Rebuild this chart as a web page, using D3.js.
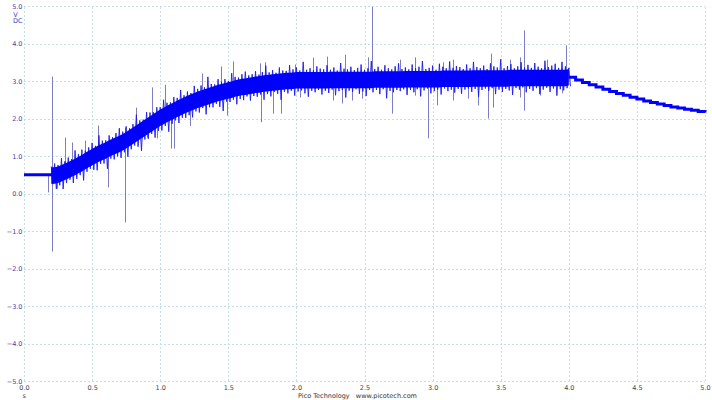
<!DOCTYPE html>
<html>
<head>
<meta charset="utf-8">
<script src="https://cdn.jsdelivr.net/npm/d3@7"></script>
<style>
  html, body { margin: 0; padding: 0; background: #ffffff; }
  svg { display: block; }
</style>
</head>
<body>
<svg id="chart" width="712" height="400"></svg>
<script>
// ---------------- data ----------------
const xTicks = [0.0, 0.5, 1.0, 1.5, 2.0, 2.5, 3.0, 3.5, 4.0, 4.5, 5.0];
const yTicks = [-5, -4, -3, -2, -1, 0, 1, 2, 3, 4, 5];
const yUnitLabels = ["V", "DC"];
const xUnitLabel = "s";
const footerText = "Pico Technology   www.picotech.com";

// flat pre-trigger level
const flatT = [0.0, 0.21];
const flatV = [0.50, 0.50];

// noisy section: sample grid (s)
const noiseStart = 0.2, noiseStep = 0.025;
// band centre (V) every 0.025 s from 0.200 to 4.000 s
const midV = [
0.48,0.48,0.50,0.54,0.58,0.62,0.67,0.71,0.76,0.81,
0.87,0.92,0.97,1.02,1.07,1.11,1.15,1.20,1.24,1.28,
1.32,1.37,1.42,1.48,1.54,1.60,1.66,1.72,1.78,1.84,
1.90,1.96,2.02,2.07,2.12,2.17,2.21,2.26,2.30,2.35,
2.39,2.43,2.46,2.50,2.53,2.56,2.59,2.62,2.65,2.68,
2.70,2.73,2.75,2.77,2.80,2.82,2.84,2.85,2.87,2.88,
2.90,2.91,2.93,2.94,2.95,2.96,2.97,2.98,2.99,3.00,
3.00,3.01,3.02,3.02,3.02,3.02,3.02,3.02,3.02,3.02,
3.02,3.02,3.03,3.03,3.03,3.03,3.03,3.03,3.03,3.03,
3.03,3.03,3.03,3.03,3.03,3.04,3.04,3.04,3.04,3.04,
3.04,3.04,3.04,3.04,3.05,3.05,3.05,3.05,3.05,3.05,
3.05,3.05,3.05,3.05,3.05,3.06,3.06,3.06,3.06,3.06,
3.06,3.06,3.06,3.06,3.07,3.07,3.07,3.07,3.07,3.07,
3.07,3.07,3.07,3.07,3.07,3.08,3.08,3.08,3.08,3.08,
3.08,3.08,3.08,3.08,3.08,3.08,3.08,3.08,3.08,3.08,
3.08,3.08,3.10
];
// half width of the dense core (V)
const coreHalf = 0.22;
// fringe excursions beyond the core (V)
const upExc = [
.02,.10,.04,.18,.06,.12,.03,.22,.07,.14,.05,.09,.16,.03,.26,.08,.05,.13,.04,.11,
.20,.06,.15,.04,.09,.28,.07,.03,.17,.10,.05,.12,.06,.21,.08,.04,.14,.07,.24,.05,
.11,.03,.19,.07,.13,.05,.30,.08,.04,.15,.06,.10,.03,.22,.09,.05,.12,.18,.06,.08,
.14,.04,.09,.25,.06,.11,.03,.16,.07,.05,.20,.08,.12,.04,.27,.06,.10,.05,.15,.09,
.07,.18,.05,.11,.03,.23,.08,.06,.13,.04,.10,.19,.05,.09,.28,.06,.12,.04,.16,.08,
.05,.13,.21,.06,.09,.04,.17,.07,.11,.26,.05,.08,.14,.03,.19,.10,.06,.24,.07,.12,
.09,.04,.16,.06,.22,.08,.05,.12,.03,.18,.10,.07,.29,.05,.11,.15,.04,.09,.20,.06,
.13,.05,.18,.08,.04,.24,.07,.11,.16,.05,.21,.09,.03
];
const downExc = [
.01,.14,.06,.20,.08,.03,.17,.10,.05,.24,.07,.04,.12,.18,.06,.09,.27,.05,.11,.07,
.15,.05,.22,.08,.04,.13,.30,.06,.10,.03,.19,.07,.12,.05,.25,.09,.04,.16,.06,.11,
.08,.18,.05,.12,.03,.23,.07,.10,.04,.15,.28,.06,.09,.05,.20,.08,.13,.04,.17,.06,
.10,.05,.21,.07,.14,.03,.09,.26,.06,.11,.04,.18,.08,.05,.13,.22,.06,.10,.04,.16,
.06,.12,.04,.19,.08,.05,.25,.07,.10,.03,.15,.09,.21,.05,.11,.06,.17,.04,.28,.08,
.12,.06,.09,.04,.20,.07,.13,.05,.24,.08,.03,.16,.10,.06,.19,.04,.11,.07,.15,.05,
.18,.07,.04,.13,.06,.27,.09,.05,.11,.04,.20,.08,.14,.06,.10,.23,.05,.09,.03,.16,
.07,.12,.05,.21,.09,.04,.15,.06,.25,.08,.11,.05,.02
];

// isolated glitches: time (s) and peak value (V)
const spikeT = [0.176,0.206,0.206,0.242,0.301,0.352,0.448,0.543,0.617,0.646,0.742,0.742,0.822,0.903,0.940,0.977,
  1.035,1.079,1.101,1.219,1.307,1.446,1.490,1.535,1.733,1.740,1.769,1.828,1.887,1.990,
  2.026,2.122,2.225,2.269,2.335,2.357,2.408,2.482,2.526,2.555,2.702,2.761,2.871,2.871,2.966,
  3.032,3.076,3.150,3.150,3.260,3.333,3.407,3.429,3.443,3.568,3.642,3.642,3.671,3.671,3.789,3.840,3.950,3.979];
const spikeV = [0.03,3.12,-1.55,0.13,1.49,1.36,1.41,1.81,0.16,1.49,-0.77,1.75,2.29,1.49,2.83,1.47,
  2.90,1.20,1.20,1.80,3.20,3.39,2.08,3.52,3.47,1.90,3.50,2.13,2.13,3.44,
  2.56,3.62,3.65,2.48,2.40,3.70,2.48,2.53,3.63,4.98,2.13,3.57,3.63,2.61,1.47,
  2.35,3.50,2.48,3.57,2.53,2.35,2.00,3.73,2.29,3.57,3.63,2.56,4.35,2.21,2.61,3.57,2.67,3.95];

// decay after 4 s (quantised steps every 0.05 s)
const decayT = [4.00,4.05,4.10,4.15,4.20,4.25,4.30,4.35,4.40,4.45,4.50,4.55,4.60,4.65,4.70,4.75,4.80,4.85,4.90,4.95,5.00];
const decayV = [3.10,3.03,2.96,2.90,2.84,2.78,2.72,2.67,2.62,2.57,2.52,2.47,2.43,2.39,2.35,2.31,2.28,2.25,2.22,2.19,2.16];

// ---------------- drawing ----------------
const svg = d3.select("#chart");
const L = 24, R = 705, T = 6, B = 381;
const x = d3.scaleLinear().domain([0, 5]).range([L, R]);
const y = d3.scaleLinear().domain([-5, 5]).range([B, T]);
const FONT = "DejaVu Sans, Verdana, sans-serif";

svg.append("rect").attr("width", 712).attr("height", 400).attr("fill", "#ffffff");

// grid
const gx = svg.append("g").attr("transform", `translate(0,${B})`)
  .call(d3.axisBottom(x).tickValues(xTicks).tickSize(-(B - T)).tickFormat(""));
const gy = svg.append("g").attr("transform", `translate(${L},0)`)
  .call(d3.axisLeft(y).tickValues(yTicks).tickSize(-(R - L)).tickFormat(""));
[gx, gy].forEach(g => {
  g.select(".domain").remove();
  g.selectAll(".tick line").attr("stroke", "#c6dfe2").attr("stroke-width", 1)
    .attr("stroke-dasharray", "2,2").attr("shape-rendering", "crispEdges");
});

// data helpers
const tOf = i => noiseStart + noiseStep * i;
const idxOf = t => Math.max(0, Math.min(midV.length - 1, Math.round((t - noiseStart) / noiseStep)));

// spikes (behind band)
const spikeData = spikeT.map((t, i) => ({ t, v: spikeV[i] }));
svg.append("g").selectAll("line").data(spikeData).join("line")
  .attr("x1", d => Math.round(x(d.t)) + 0.5).attr("x2", d => Math.round(x(d.t)) + 0.5)
  .attr("y1", d => y(d.t < noiseStart ? flatV[0] : midV[idxOf(d.t)]))
  .attr("y2", d => y(d.v))
  .attr("stroke", "#7d7dc6").attr("stroke-width", 1);

// fringe zig-zag
const zig = [];
midV.forEach((m, i) => {
  zig.push([tOf(i), m + coreHalf + upExc[i]]);
  zig.push([tOf(i) + noiseStep / 2, m - coreHalf - downExc[i]]);
});
svg.append("path").datum(zig)
  .attr("d", d3.line().x(d => x(d[0])).y(d => y(d[1])))
  .attr("fill", "none").attr("stroke", "#1a1ae8").attr("stroke-width", 0.9);

// dense core
svg.append("path").datum(midV.map((m, i) => ({ t: tOf(i), m })))
  .attr("d", d3.area().x(d => x(d.t)).y0(d => y(d.m - coreHalf)).y1(d => y(d.m + coreHalf)))
  .attr("fill", "#0000ff");

// flat start
svg.append("path").datum(flatT.map((t, i) => [t, flatV[i]]))
  .attr("d", d3.line().x(d => x(d[0])).y(d => y(d[1])))
  .attr("fill", "none").attr("stroke", "#0000ff").attr("stroke-width", 3);

// decay staircase
svg.append("path").datum(decayT.map((t, i) => [t, decayV[i]]))
  .attr("d", d3.line().curve(d3.curveStepAfter).x(d => x(d[0])).y(d => y(d[1])))
  .attr("fill", "none").attr("stroke", "#0000ff").attr("stroke-width", 3);

// y axis labels
const ya = svg.append("g").attr("transform", `translate(${L},0)`)
  .call(d3.axisLeft(y).tickValues(yTicks).tickSize(0).tickPadding(1.5).tickFormat(d3.format(".1f")));
ya.select(".domain").remove();
ya.selectAll("text").attr("font-family", FONT).attr("font-size", 6.5).attr("fill", "#4343a8");

svg.append("text").attr("x", 15.5).attr("y", 16.8).attr("text-anchor", "middle")
  .attr("font-family", FONT).attr("font-size", 6.5).attr("fill", "#4343a8").text(yUnitLabels[0]);
svg.append("text").attr("x", 22.5).attr("y", 23.4).attr("text-anchor", "end")
  .attr("font-family", FONT).attr("font-size", 6.5).attr("fill", "#4343a8").text(yUnitLabels[1]);

// x axis labels
const xa = svg.append("g").attr("transform", `translate(0,${B})`)
  .call(d3.axisBottom(x).tickValues(xTicks).tickSize(0).tickPadding(4.8).tickFormat(d3.format(".1f")));
xa.select(".domain").remove();
xa.selectAll("text").attr("font-family", FONT).attr("font-size", 6.5).attr("fill", "#444444");

svg.append("text").attr("x", 24.3).attr("y", 398).attr("text-anchor", "middle")
  .attr("font-family", FONT).attr("font-size", 6.5).attr("fill", "#444444").text(xUnitLabel);

svg.append("text").attr("x", 357.5).attr("y", 398.2).attr("text-anchor", "middle")
  .attr("xml:space", "preserve").style("white-space", "pre")
  .attr("font-family", FONT).attr("font-size", 6.5).attr("fill", "#333333").text(footerText);
</script>
</body>
</html>
